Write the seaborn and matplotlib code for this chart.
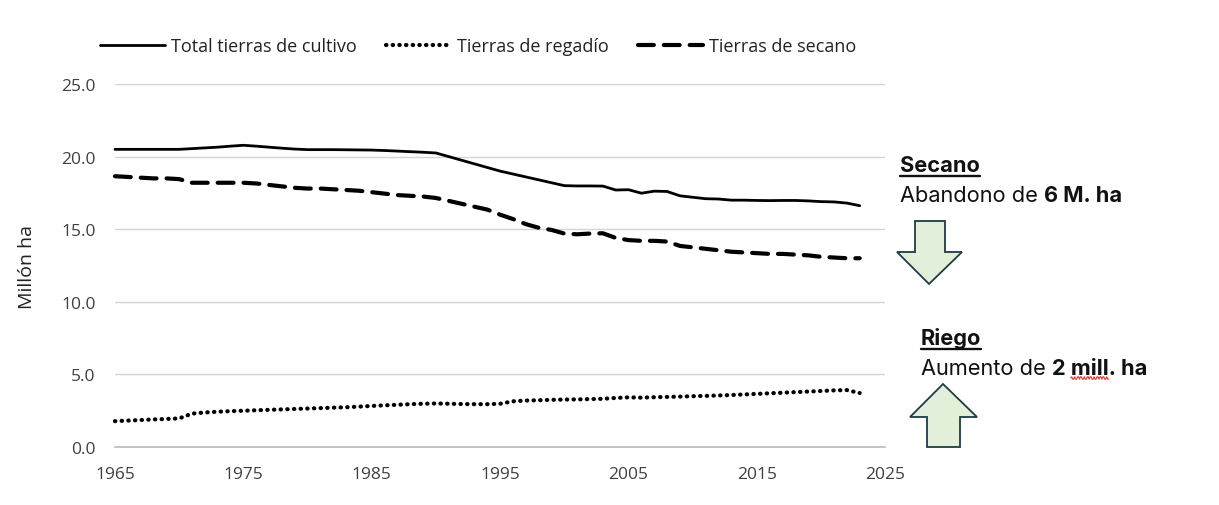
import matplotlib
matplotlib.use("Agg")
import matplotlib.pyplot as plt
import seaborn as sns
import numpy as np
import pandas as pd
from matplotlib.patches import Polygon

years = list(range(1965, 2024))

total = [20.5, 20.5, 20.5, 20.5, 20.5, 20.5, 20.55, 20.6, 20.65, 20.72,
         20.78, 20.72, 20.65, 20.58, 20.52, 20.48, 20.48, 20.48, 20.47, 20.46,
         20.45, 20.42, 20.38, 20.34, 20.3, 20.25, 20.0, 19.75, 19.5, 19.25,
         19.0, 18.8, 18.6, 18.4, 18.2, 18.0, 17.98, 17.98, 17.97, 17.7,
         17.72, 17.48, 17.62, 17.6, 17.3, 17.2, 17.1, 17.08, 17.0, 17.0,
         16.98, 16.97, 16.98, 16.98, 16.95, 16.9, 16.88, 16.8, 16.62]

regadio = [1.78, 1.82, 1.86, 1.90, 1.93, 1.97, 2.30, 2.38, 2.43, 2.47,
           2.50, 2.53, 2.56, 2.59, 2.62, 2.65, 2.68, 2.71, 2.74, 2.78,
           2.83, 2.87, 2.91, 2.95, 2.98, 3.00, 2.98, 2.96, 2.95, 2.95,
           2.98, 3.15, 3.20, 3.22, 3.25, 3.27, 3.28, 3.30, 3.32, 3.38,
           3.42, 3.40, 3.43, 3.45, 3.47, 3.50, 3.52, 3.55, 3.58, 3.62,
           3.66, 3.70, 3.74, 3.78, 3.82, 3.86, 3.90, 3.92, 3.72]

secano = [18.65, 18.6, 18.55, 18.5, 18.5, 18.45, 18.2, 18.2, 18.2, 18.2,
          18.2, 18.15, 18.05, 17.95, 17.85, 17.8, 17.8, 17.75, 17.7, 17.65,
          17.55, 17.45, 17.35, 17.3, 17.25, 17.15, 16.95, 16.75, 16.55, 16.35,
          16.0, 15.7, 15.35, 15.1, 14.95, 14.7, 14.65, 14.7, 14.72, 14.4,
          14.25, 14.2, 14.2, 14.15, 13.85, 13.75, 13.65, 13.55, 13.45, 13.4,
          13.35, 13.3, 13.3, 13.25, 13.2, 13.1, 13.05, 13.0, 13.0]

series_labels = ["Total tierras de cultivo", "Tierras de regadío", "Tierras de secano"]
xticks = [1965, 1975, 1985, 1995, 2005, 2015, 2025]
yticks = [0, 5, 10, 15, 20, 25]

sns.set_theme(style="white")
plt.rcParams['font.family'] = ['Open Sans', 'DejaVu Sans']

fig = plt.figure(figsize=(12.19, 5.06), dpi=100)
ax = fig.add_axes([0.0943, 0.1146, 0.632, 0.7174])

sns.lineplot(x=years, y=total, ax=ax, color="black", linewidth=2.0,
             label=series_labels[0])
sns.lineplot(x=years, y=regadio, ax=ax, color="black", linewidth=3.0,
             label=series_labels[1])
sns.lineplot(x=years, y=secano, ax=ax, color="black", linewidth=3.0,
             label=series_labels[2])
lines = ax.get_lines()
lines[1].set_linestyle((0, (0.1, 1.5)))
lines[1].set_dash_capstyle("round")
lines[2].set_linestyle((0, (3.8, 2.4)))
lines[2].set_dash_capstyle("round")
for ln in lines:
    ln.set_clip_on(False)

ax.set_xlim(1965, 2025)
ax.set_ylim(0, 25)
ax.set_xticks(xticks)
ax.set_yticks(yticks)
ax.set_yticklabels([f"{v:.1f}" for v in yticks])
ax.grid(axis="y", color="#d4d4d4", linewidth=1.0)
ax.set_axisbelow(True)
for s in ["top", "right", "left"]:
    ax.spines[s].set_visible(False)
ax.spines["bottom"].set_color("#bfbfbf")
ax.spines["bottom"].set_linewidth(1.3)
ax.tick_params(axis="y", length=0, labelsize=12.5, colors="#404040", pad=14)
ax.tick_params(axis="x", length=0, labelsize=12.5, colors="#404040", pad=14)
ax.set_ylabel("Millón ha", fontsize=14, color="#222222", labelpad=18)
ax.set_xlabel("")

handles, labs = ax.get_legend_handles_labels()
ax.get_legend().remove()
leg = fig.legend(handles, labs, loc="center left",
                 bbox_to_anchor=(100 / 1219.0, 1 - 47 / 506.0), ncol=3,
                 frameon=False, fontsize=13.0, handlelength=3.6,
                 columnspacing=1.6, handletextpad=0.35, borderaxespad=0,
                 borderpad=0)
for t in leg.get_texts():
    t.set_color("#222222")

fig.canvas.draw()
renderer = fig.canvas.get_renderer()


def fx(px):
    return px / 1219.0


def fy(py):
    return 1 - py / 506.0


FAM = ["Inter", "DejaVu Sans"]


def mixed(x, y, normal, bold, size):
    t1 = fig.text(fx(x), fy(y), normal, fontsize=size, color="#111111",
                  family=FAM, va="baseline")
    bb = t1.get_window_extent(renderer=renderer)
    t2 = fig.text(bb.x1 / fig.bbox.width, fy(y), bold, fontsize=size,
                  color="#111111", fontweight="bold", family=FAM,
                  va="baseline")
    return t2


def title(x, y, txt, size):
    t = fig.text(fx(x), fy(y), txt, fontsize=size, color="#111111",
                 fontweight="bold", family=FAM, va="baseline")
    bb = t.get_window_extent(renderer=renderer)
    uy = fy(y) - 4.5 / fig.bbox.height
    fig.add_artist(plt.Line2D([bb.x0 / fig.bbox.width, bb.x1 / fig.bbox.width],
                              [uy, uy], color="#111111", linewidth=1.7,
                              transform=fig.transFigure))


SZ = 15.7
title(900, 172, "Secano", SZ)
mixed(900, 202, "Abandono de ", "6 M. ha", SZ)
title(921, 345, "Riego", SZ)
tb = mixed(921, 375, "Aumento de ", "2 mill. ha", SZ)

# red spell-check squiggle under "mill"
bb_all = tb.get_window_extent(renderer=renderer)
tmp = fig.text(0, 0, "2 ", fontsize=SZ, fontweight="bold", family=FAM)
w2 = tmp.get_window_extent(renderer=renderer).width
tmp2 = fig.text(0, 0, "mill", fontsize=SZ, fontweight="bold", family=FAM)
wm = tmp2.get_window_extent(renderer=renderer).width
tmp.remove()
tmp2.remove()
x0 = bb_all.x0 + w2
xs = np.linspace(x0, x0 + wm, 40)
ys = (506 - 379) + 1.2 * np.sign(np.sin((xs - x0) / 1.6 * np.pi))
fig.add_artist(plt.Line2D(xs / fig.bbox.width, ys / fig.bbox.height,
                          color="#d9342b", linewidth=0.8,
                          transform=fig.transFigure))

fill = "#e2f0d9"
edge = "#1e3b47"
down = [(915, 222), (945, 222), (945, 253), (962, 253), (929, 285),
        (897, 253), (915, 253)]
up = [(927, 448), (960, 448), (960, 418), (977, 418), (943, 385),
      (910, 418), (927, 418)]
for pts in (down, up):
    fig.add_artist(Polygon([(fx(a), fy(b)) for a, b in pts], closed=True,
                           facecolor=fill, edgecolor=edge, linewidth=1.3,
                           transform=fig.transFigure))

fig.savefig("out.png", dpi=100)
